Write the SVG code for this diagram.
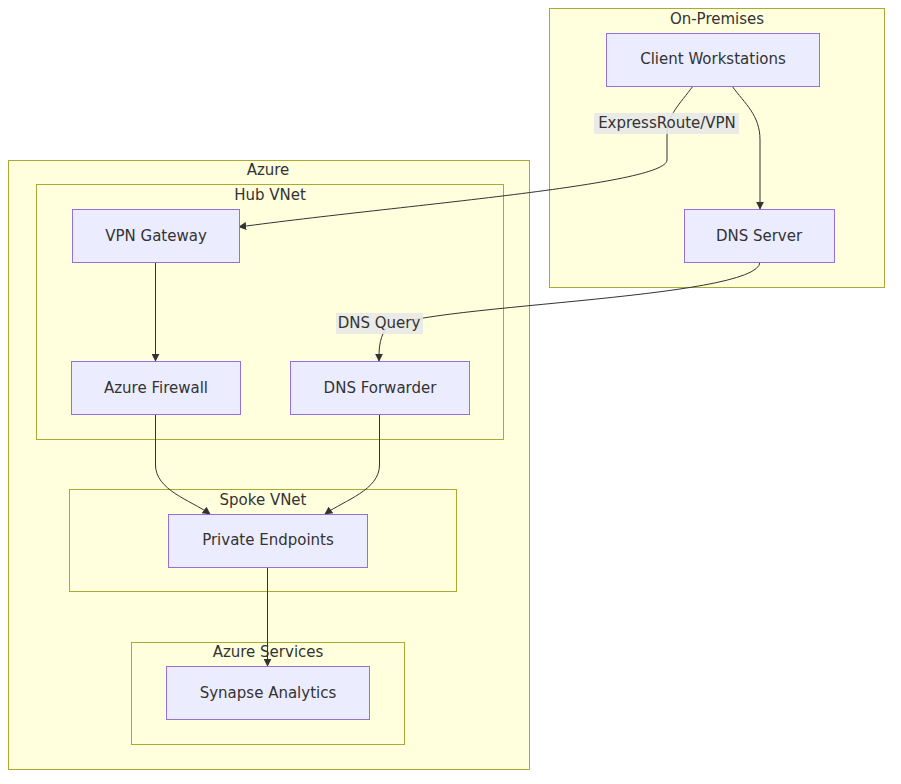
<svg xmlns="http://www.w3.org/2000/svg" width="901" height="784" viewBox="0 0 901 784">
<defs>
<style>
.c{fill:#ffffde;stroke:#aaaa33;stroke-width:1}
.n{fill:#ECECFF;stroke:#9370DB;stroke-width:1}
text{font-family:"DejaVu Sans",Verdana,sans-serif;font-size:15px;fill:#333;text-anchor:middle;dominant-baseline:central}
.e{fill:none;stroke:#333;stroke-width:1;marker-end:url(#a)}
.lb{fill:#e8e8e8;opacity:0.9}
</style>
<marker id="a" viewBox="0 0 10 10" refX="9" refY="5" markerWidth="8" markerHeight="8" orient="auto"><path d="M0,0L10,5L0,10z" fill="#333"/></marker>
</defs>
<rect width="901" height="784" fill="#fff"/>
<g id="onprem"><rect class="c" x="549.5" y="8.5" width="335" height="279"/><text x="717" y="19">On-Premises</text></g>
<g id="azure"><rect class="c" x="8.5" y="160.5" width="521" height="609"/><text x="268" y="170">Azure</text></g>
<g id="hub"><rect class="c" x="36.5" y="184.5" width="467" height="255"/><text x="270" y="195">Hub VNet</text></g>
<g id="spoke"><rect class="c" x="69.5" y="489.5" width="387" height="102"/><text x="263" y="500">Spoke VNet</text></g>
<g id="services"><rect class="c" x="131.5" y="642.5" width="273" height="102"/><text x="268" y="652">Azure Services</text></g>
<g id="edges">
<path class="e" d="M693,86 C680,104 667,115 667,135 L667,160 C667,185 400,205 239,227"/>
<path class="e" d="M732,86 C745,104 760,115 760,140 L760,209"/>
<path class="e" d="M760,262 C760,300 400,305 385,330 C379,340 379,350 379,361"/>
<path class="e" d="M155.5,262 L155.5,361"/>
<path class="e" d="M155.5,414 L155.5,465 C155.5,490 190,500 210,514"/>
<path class="e" d="M379.5,414 L379.5,465 C379.5,490 345,500 325,514"/>
<path class="e" d="M267.5,567 L267.5,666"/>
<rect class="lb" x="594" y="113" width="145" height="21"/><text x="667" y="123">ExpressRoute/VPN</text>
<rect class="lb" x="336" y="313" width="87" height="21"/><text x="379" y="323">DNS Query</text>
</g>
<g id="client"><rect class="n" x="606.5" y="33.5" width="213" height="53"/><text x="713" y="59">Client Workstations</text></g>
<g id="dns"><rect class="n" x="684.5" y="209.5" width="150" height="53"/><text x="759" y="236">DNS Server</text></g>
<g id="vpn"><rect class="n" x="72.5" y="209.5" width="167" height="53"/><text x="156" y="236">VPN Gateway</text></g>
<g id="fw"><rect class="n" x="71.5" y="361.5" width="169" height="53"/><text x="156" y="388">Azure Firewall</text></g>
<g id="dnsf"><rect class="n" x="290.5" y="361.5" width="179" height="53"/><text x="380" y="388">DNS Forwarder</text></g>
<g id="pe"><rect class="n" x="168.5" y="514.5" width="199" height="53"/><text x="268" y="540">Private Endpoints</text></g>
<g id="syn"><rect class="n" x="166.5" y="666.5" width="203" height="53"/><text x="268" y="693">Synapse Analytics</text></g>
</svg>
